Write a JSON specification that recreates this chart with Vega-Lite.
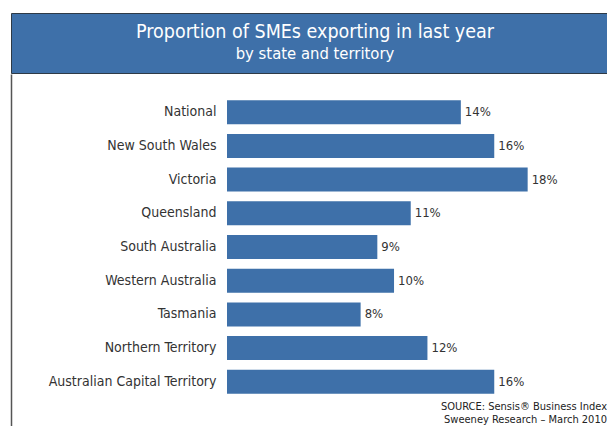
{
  "$schema": "https://vega.github.io/schema/vega-lite/v6.json",
  "padding": {"left": 10, "top": 12, "right": 0, "bottom": 0},
  "background": "white",
  "spacing": 0,
  "config": {
    "font": "DejaVu Sans Condensed",
    "view": {"stroke": null},
    "axis": {"grid": false, "title": null}
  },
  "vconcat": [
    {
      "width": 596,
      "height": 60,
      "view": {"fill": "#3e70a9", "stroke": "#2e3a46", "strokeWidth": 1},
      "data": {"values": [
        {"line": "Proportion of SMEs exporting in last year", "order": 1},
        {"line": "by state and territory", "order": 2}
      ]},
      "mark": {"type": "text", "color": "white", "baseline": "middle", "align": "center", "dx": 6, "font": "DejaVu Sans Condensed"},
      "encoding": {
        "y": {"field": "order", "type": "ordinal", "axis": null, "scale": {"type": "point", "padding": 0.864}},
        "text": {"field": "line"},
        "size": {"condition": {"test": "datum.order === 1", "value": 19.5}, "value": 16.5}
      }
    },
    {
      "width": 596,
      "height": 354,
      "title": {
        "text": "SOURCE: Sensis® Business Index",
        "subtitle": "Sweeney Research – March 2010",
        "orient": "bottom",
        "anchor": "end",
        "frame": "group",
        "offset": -27,
        "fontSize": 11,
        "fontWeight": "normal",
        "color": "#222",
        "subtitleFontSize": 11,
        "subtitleColor": "#222",
        "subtitlePadding": 2,
        "font": "DejaVu Sans Condensed",
        "subtitleFont": "DejaVu Sans Condensed"
      },
      "data": {"values": [
        {"state": "National", "pct": 0.14},
        {"state": "New South Wales", "pct": 0.16},
        {"state": "Victoria", "pct": 0.18},
        {"state": "Queensland", "pct": 0.11},
        {"state": "South Australia", "pct": 0.09},
        {"state": "Western Australia", "pct": 0.10},
        {"state": "Tasmania", "pct": 0.08},
        {"state": "Northern Territory", "pct": 0.12},
        {"state": "Australian Capital Territory", "pct": 0.16}
      ]},
      "encoding": {
        "y": {
          "field": "state", "type": "nominal", "sort": null,
          "scale": {"paddingInner": 0.288, "paddingOuter": 0.896, "align": 0.434},
          "axis": {
            "domain": true,
            "domainColor": "#555555",
            "domainWidth": 1.5,
            "ticks": false,
            "tickSize": 0,
            "labelPadding": -205,
            "labelAlign": "right",
            "labelFontSize": 14,
            "labelColor": "#333333",
            "labelLimit": 0,
            "labelFont": "DejaVu Sans Condensed"
          }
        },
        "x": {"field": "pct", "type": "quantitative", "axis": null, "scale": {"domain": [0, 0.2275], "range": [216, 596], "nice": false}}
      },
      "layer": [
        {"mark": {"type": "bar", "color": "#3e70a9"}},
        {
          "mark": {"type": "text", "align": "left", "baseline": "middle", "dx": 4, "fontSize": 13, "color": "#333333", "font": "DejaVu Sans Condensed"},
          "encoding": {"text": {"field": "pct", "type": "quantitative", "format": ".0%"}}
        }
      ]
    }
  ]
}
